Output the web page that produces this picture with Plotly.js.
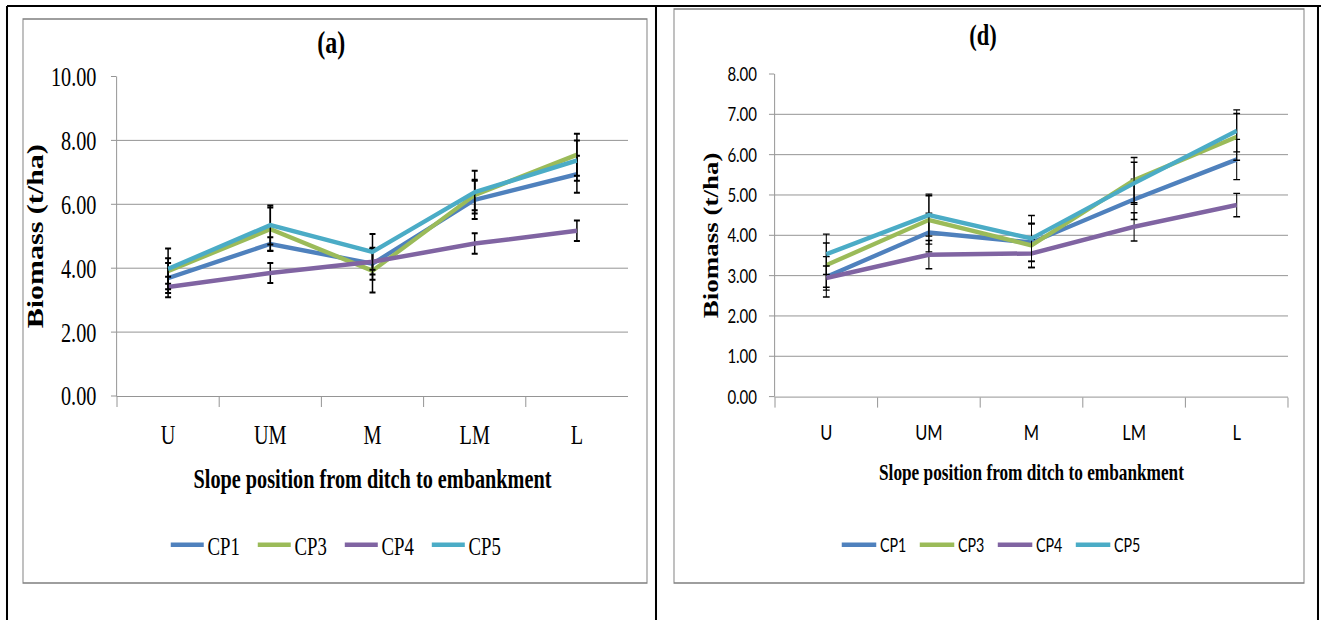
<!DOCTYPE html>
<html>
<head>
<meta charset="utf-8">
<script src="https://cdn.plot.ly/plotly-3.0.1.min.js"></script>
<style>
  html, body { margin: 0; padding: 0; overflow: hidden; background: #fff; }
  #wrap { width: 1321px; height: 620px; overflow: hidden; }
  /* the figure is laid out wide and narrowed horizontally, giving the tall, condensed lettering of the printed figure */
  #chart { width: 1761px; height: 620px; transform: scaleX(0.75014); transform-origin: 0 0; }
</style>
</head>
<body>
<div id="wrap"><div id="chart"></div></div>
<script>
// slope positions from ditch (U) to embankment (L)
const positions = ['U', 'UM', 'M', 'LM', 'L'];
const seriesNames = ['CP1', 'CP3', 'CP4', 'CP5'];
const seriesColors = ['#4F81BD', '#9BBB59', '#8064A2', '#4BACC6'];

// panel (a): biomass, t/ha
const biomassA_CP1 = [3.69, 4.76, 4.14, 6.14, 6.94];
const biomassA_CP3 = [3.91, 5.22, 3.92, 6.29, 7.55];
const biomassA_CP4 = [3.41, 3.85, 4.20, 4.77, 5.17];
const biomassA_CP5 = [3.98, 5.35, 4.51, 6.38, 7.37];
// panel (a): error bar half-lengths
const errA_CP1 = [0.47, 0.21, 0.50, 0.60, 0.58];
const errA_CP3 = [0.40, 0.68, 0.68, 0.48, 0.66];
const errA_CP4 = [0.32, 0.31, 0.40, 0.32, 0.32];
const errA_CP5 = [0.64, 0.61, 0.56, 0.67, 0.63];

// panel (d): biomass, t/ha
const biomassD_CP1 = [2.97, 4.07, 3.82, 4.89, 5.88];
const biomassD_CP3 = [3.26, 4.38, 3.75, 5.37, 6.44];
const biomassD_CP4 = [2.94, 3.52, 3.55, 4.21, 4.75];
const biomassD_CP5 = [3.53, 4.50, 3.92, 5.29, 6.59];
// panel (d): error bar half-lengths
const errD_CP1 = [0.50, 0.48, 0.46, 0.50, 0.50];
const errD_CP3 = [0.55, 0.60, 0.55, 0.56, 0.58];
const errD_CP4 = [0.30, 0.35, 0.35, 0.35, 0.29];
const errD_CP5 = [0.50, 0.52, 0.57, 0.52, 0.52];

const yTicksA = [0, 2, 4, 6, 8, 10];
const yTicksD = [0, 1, 2, 3, 4, 5, 6, 7, 8];

const SERIF = 'Liberation Serif, Times New Roman, serif';
const SANS = 'Lato, Carlito, sans-serif';
const GRID = '#868686';

function panelTraces(values, errors, xa, ya, legendId, barThickness, capWidth) {
  return seriesNames.map((name, i) => ({
    type: 'scatter',
    mode: 'lines',
    name: name,
    x: positions,
    y: values[i],
    xaxis: xa,
    yaxis: ya,
    legend: legendId,
    line: { color: seriesColors[i], width: 4.5 },
    error_y: {
      type: 'data', array: errors[i], visible: true,
      color: '#000000', thickness: barThickness, width: capWidth
    },
    hoverinfo: 'skip'
  }));
}

const data = [].concat(
  panelTraces([biomassA_CP1, biomassA_CP3, biomassA_CP4, biomassA_CP5],
              [errA_CP1, errA_CP3, errA_CP4, errA_CP5], 'x', 'y', 'legend', 2, 4),
  panelTraces([biomassD_CP1, biomassD_CP3, biomassD_CP4, biomassD_CP5],
              [errD_CP1, errD_CP3, errD_CP4, errD_CP5], 'x2', 'y2', 'legend2', 1.4, 4.5)
);

const W = 1761, H = 620;
const px = v => v / 0.75014 / W;   // on-screen x pixel -> paper fraction
const py = v => 1 - v / H;         // on-screen y pixel -> paper fraction

function xAxis(domain, font, standoff, titleFont, titleStandoff) {
  return {
    domain: domain, type: 'category', range: [-0.5, 4.5],
    tickson: 'boundaries', ticks: 'outside', ticklen: 10, tickcolor: GRID, tickwidth: 1,
    showline: true, linecolor: GRID, linewidth: 1, showgrid: false, zeroline: false,
    tickfont: font, ticklabelstandoff: standoff, fixedrange: true,
    title: { text: 'Slope position from ditch to embankment', font: titleFont, standoff: titleStandoff }
  };
}
function yAxis(domain, range, ticks, font, standoff, titleFont, titleStandoff) {
  return {
    domain: domain, range: range, tickvals: ticks, tickformat: '.2f',
    ticks: 'outside', ticklen: 7, tickcolor: GRID, tickwidth: 1,
    showline: true, linecolor: GRID, linewidth: 1,
    showgrid: true, gridcolor: GRID, gridwidth: 1, zeroline: false,
    tickfont: font, ticklabelstandoff: standoff, fixedrange: true,
    title: { text: 'Biomass (t/ha)', font: titleFont, standoff: titleStandoff }
  };
}

function box(x0, y0, x1, y1, color, width) {
  return { type: 'rect', xref: 'paper', yref: 'paper', x0: px(x0), x1: px(x1), y0: py(y0), y1: py(y1),
           line: { color: color, width: width }, fillcolor: 'rgba(0,0,0,0)', layer: 'below' };
}
function rule(x0, y0, x1, y1, width) {
  return { type: 'line', xref: 'paper', yref: 'paper', x0: px(x0), x1: px(x1), y0: py(y0), y1: py(y1),
           line: { color: '#000000', width: width } };
}

const layout = {
  width: W, height: H,
  margin: { l: 0, r: 0, t: 0, b: 0 },
  paper_bgcolor: '#ffffff', plot_bgcolor: '#ffffff',
  showlegend: true,
  xaxis: xAxis([px(117), px(628)], { family: SERIF, size: 27, color: '#000' }, 15,
               { family: SERIF, size: 27, color: '#000', weight: 700 }, 19),
  yaxis: yAxis([py(396), py(76.5)], [0, 10], yTicksA, { family: SERIF, size: 27, color: '#000' }, 14,
               { family: SERIF, size: 30, color: '#000', weight: 700 }, 0),
  xaxis2: Object.assign(xAxis([px(775), px(1288)], { family: SANS, size: 22, color: '#000' }, 16,
               { family: SERIF, size: 23, color: '#000', weight: 700 }, 19), { anchor: 'y2' }),
  yaxis2: Object.assign(yAxis([py(396.6), py(74)], [0, 8], yTicksD, { family: SANS, size: 20, color: '#000' }, 12,
               { family: SERIF, size: 27, color: '#000', weight: 700 }, 3), { anchor: 'x2' }),
  legend: {
    orientation: 'h', x: px(167), y: py(545), xanchor: 'left', yanchor: 'middle',
    font: { family: SERIF, size: 25, color: '#000' }, bgcolor: 'rgba(0,0,0,0)',
    itemwidth: 44, entrywidth: 57, entrywidthmode: 'pixels', itemclick: false, itemdoubleclick: false
  },
  legend2: {
    orientation: 'h', x: px(838), y: py(545), xanchor: 'left', yanchor: 'middle',
    font: { family: SANS, size: 19, color: '#000' }, bgcolor: 'rgba(0,0,0,0)',
    itemwidth: 46, entrywidth: 43, entrywidthmode: 'pixels', itemclick: false, itemdoubleclick: false
  },
  annotations: [
    { text: '(a)', xref: 'paper', yref: 'paper', x: px(331), y: py(42), xanchor: 'center', yanchor: 'middle',
      showarrow: false, font: { family: SERIF, size: 32, color: '#000', weight: 700 } },
    { text: '(d)', xref: 'paper', yref: 'paper', x: px(983), y: py(35), xanchor: 'center', yanchor: 'middle',
      showarrow: false, font: { family: SERIF, size: 30, color: '#000', weight: 700 } }
  ],
  shapes: [
    box(23, 19, 647, 583, '#7F7F7F', 1.3),
    box(674, 9, 1304, 583, '#7F7F7F', 1.3),
    rule(7, 6, 1321, 6, 2),
    rule(7, 6, 7, 620, 2.7),
    rule(656, 6, 656, 620, 2.7),
    rule(1318, 6, 1318, 620, 2.7)
  ]
};
layout.xaxis.anchor = 'y';
layout.yaxis.anchor = 'x';

Plotly.newPlot('chart', data, layout, { displayModeBar: false, staticPlot: true });
</script>
</body>
</html>
